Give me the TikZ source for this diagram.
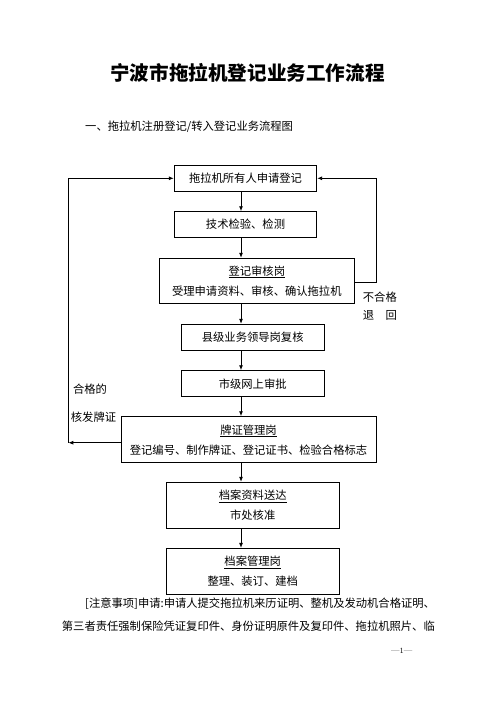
\documentclass[tikz,border=0pt]{standalone}
\usepackage{fontspec}
\usetikzlibrary{arrows.meta}
\newfontfamily\cjk{Noto Sans CJK SC}
\begin{document}
\begin{tikzpicture}[x=1pt,y=-1pt,
  box/.style={draw,line width=0.9pt,inner sep=0pt,align=center,
    font=\cjk\fontsize{11.3}{20}\selectfont},
  arr/.style={line width=0.9pt,-{Latex[length=5pt,width=4pt]}},
  ln/.style={line width=0.9pt},
  lbl/.style={inner sep=0pt,font=\cjk\fontsize{11.3}{14}\selectfont}]
\useasboundingbox (0,0) rectangle (496,702);
\node[inner sep=0pt,font=\cjk\bfseries\fontsize{19.6}{22}\selectfont] (title) at (247.5,73) {宁波市拖拉机登记业务工作流程};
\node[lbl,anchor=west] (sub) at (85,127) {一、拖拉机注册登记/转入登记业务流程图};

\node[box,minimum width=142.4,minimum height=26.7] (b1) at (245.5,178.3) {拖拉机所有人申请登记};
\node[box,minimum width=142.4,minimum height=25.6] (b2) at (245.5,224.5) {技术检验、检测};
\node[box,minimum width=195,minimum height=45] (b3) at (256.8,280.8) {\underline{登记审核岗}\\受理申请资料、审核、确认拖拉机};
\node[box,minimum width=143.3,minimum height=26.4] (b4) at (252.7,337.5) {县级业务领导岗复核};
\node[box,minimum width=143.3,minimum height=26] (b5) at (252.7,383.7) {市级网上审批};
\node[box,minimum width=255,minimum height=46] (b6) at (248.5,439.7) {\underline{牌证管理岗}\\登记编号、制作牌证、登记证书、检验合格标志};
\node[box,minimum width=173.3,minimum height=46] (b7) at (252.7,505.3) {\underline{档案资料送达}\\市处核准};
\node[box,minimum width=173.3,minimum height=45.7] (b8) at (252.7,571.2) {\underline{档案管理岗}\\整理、装订、建档};

\coordinate (ax) at (241,0);
\draw[arr] (b1.south -| ax) -- (b2.north -| ax);
\draw[arr] (b2.south -| ax) -- (b3.north -| ax);
\draw[arr] (b3.south -| ax) -- (b4.north -| ax);
\draw[arr] (b4.south -| ax) -- (b5.north -| ax);
\draw[arr] (b5.south -| ax) -- (b6.north -| ax);
\draw[arr] (b6.south -| ax) -- (b7.north -| ax);
\draw[arr] (b7.south -| ax) -- (b8.north -| ax);

\coordinate (L1) at (68.3,442.7);
\coordinate (L2) at (68.3,178.3);
\draw[arr] (b6.west |- L1) -- (L1);
\draw[arr] (L1) -- (L2) -- (b1.west);
\coordinate (R1) at (376,282.7);
\coordinate (R2) at (376,178.3);
\draw[arr] (b3.east |- R1) -- (R1) -- (R2) -- (b1.east);

\node[lbl,anchor=west] (ng1) at (362.7,297) {不合格};
\node[lbl,anchor=west] (ng2) at (362.7,315.5) {退\hspace{11.3pt}回};
\node[lbl] (ok1) at (90,389.3) {合格的};
\node[lbl] (ok2) at (93.5,416.7) {核发牌证};

\node[lbl,anchor=west] (p1) at (85,603.3) {[注意事项]申请:申请人提交拖拉机来历证明、整机及发动机合格证明、};
\node[lbl,anchor=west] (p2) at (61.7,626.7) {第三者责任强制保险凭证复印件、身份证明原件及复印件、拖拉机照片、临};
\node[inner sep=0pt,font=\fontsize{8}{10}\selectfont] (pg) at (401.7,651) {—1—};
\end{tikzpicture}
\end{document}
